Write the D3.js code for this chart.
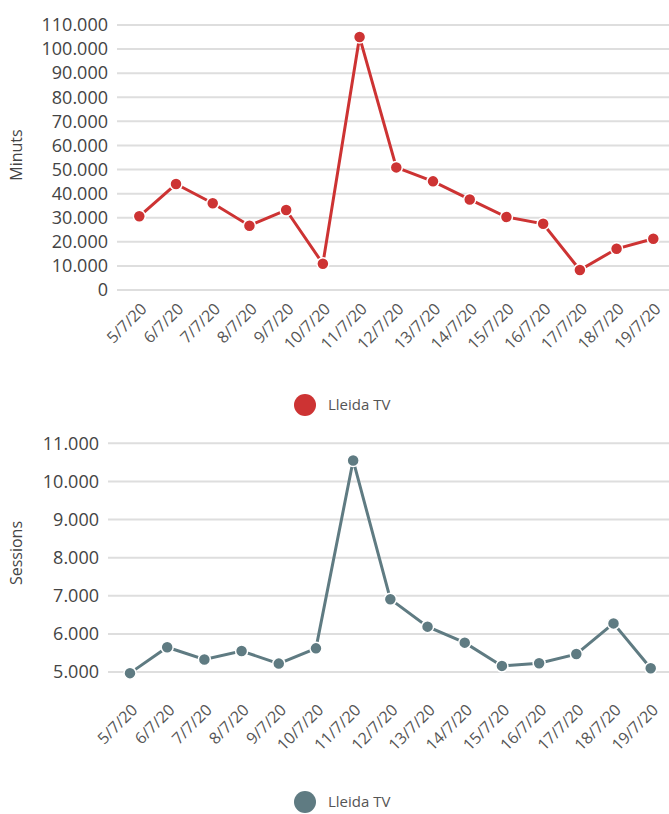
<!DOCTYPE html>
<html>
<head>
<meta charset="utf-8">
<script src="https://cdn.jsdelivr.net/npm/d3@7"></script>
<style>
  body { margin: 0; background: #fff; }
  svg { display: block; font-family: 'Open Sans', sans-serif; }
</style>
</head>
<body>
<svg id="canvas" width="669" height="814"></svg>
<script>
// dates shared by both charts
var dies = ["5/7/20","6/7/20","7/7/20","8/7/20","9/7/20","10/7/20","11/7/20","12/7/20",
            "13/7/20","14/7/20","15/7/20","16/7/20","17/7/20","18/7/20","19/7/20"];

var minuts = [30600,44000,36000,26700,33200,10900,105000,50900,45100,37600,30300,27500,8300,17100,21300];
var sessions = [4970,5650,5330,5550,5220,5620,10550,6910,6190,5770,5160,5230,5470,6275,5100];

var minutsTicks = d3.range(0, 110001, 10000);
var sessionsTicks = d3.range(5000, 11001, 1000);

var serie = "Lleida TV";
var vermell = "#cd3333";
var gris = "#5f7b82";

var fmt = function(v) { return d3.format(",")(v).replace(/,/g, "."); };

var svg = d3.select("#canvas");

function grafic(cfg) {
  var g = svg.append("g");

  var x = d3.scalePoint().domain(dies).range(cfg.xRange);
  var y = d3.scaleLinear().domain(cfg.yDomain).range(cfg.yRange);

  // gridlines
  g.selectAll("line.grid")
    .data(cfg.ticks).enter()
    .append("line")
      .attr("class","grid")
      .attr("x1", cfg.gridX[0])
      .attr("x2", cfg.gridX[1])
      .attr("y1", function(d) { return y(d); })
      .attr("y2", function(d) { return y(d); })
      .attr("stroke", "#dedede")
      .attr("stroke-width", 2);

  // y ticks
  var yAxis = d3.axisLeft(y).tickValues(cfg.ticks).tickFormat(fmt).tickSize(0).tickPadding(0);
  var ya = g.append("g")
    .attr("transform", "translate(" + cfg.yLabelX + ",0)")
    .call(yAxis);
  ya.select(".domain").remove();
  ya.selectAll("text")
    .attr("fill", "#444")
    .attr("font-size", 18)
    .attr("font-family", "'Open Sans', sans-serif");

  // x ticks, rotated
  var xAxis = d3.axisBottom(x).tickSize(0).tickPadding(0);
  var xa = g.append("g")
    .attr("transform", "translate(0," + cfg.xLabelY + ")")
    .call(xAxis);
  xa.select(".domain").remove();
  xa.selectAll("text")
    .attr("fill", "#555")
    .attr("font-size", 16)
    .attr("font-family", "'Open Sans', sans-serif")
    .attr("text-anchor", "end")
    .attr("dy", "0.35em")
    .attr("transform", "translate(4,0) rotate(-45)");

  // axis title
  g.append("text")
    .attr("transform", "translate(" + 22 + "," + cfg.titleY + ") rotate(-90)")
    .attr("text-anchor", "middle")
    .attr("fill", "#444")
    .attr("font-size", 16)
    .text(cfg.title);

  // line
  var line = d3.line()
    .x(function(d, i) { return x(dies[i]); })
    .y(function(d) { return y(d); });

  g.append("path")
    .datum(cfg.values)
    .attr("d", line)
    .attr("fill", "none")
    .attr("stroke", cfg.color)
    .attr("stroke-width", 3);

  g.selectAll("circle.punt")
    .data(cfg.values).enter()
    .append("circle")
      .attr("class","punt")
      .attr("cx", function(d, i) { return x(dies[i]); })
      .attr("cy", function(d) { return y(d); })
      .attr("r", 6)
      .attr("fill", cfg.color)
      .attr("stroke", "#fff")
      .attr("stroke-width", 1.5);

  // legend
  var lg = g.append("g").attr("transform", "translate(305," + cfg.legendY + ")");
  lg.append("circle").attr("r", 11).attr("fill", cfg.color);
  lg.append("text")
    .attr("x", 23)
    .attr("dy", "0.35em")
    .attr("fill", "#555")
    .attr("font-size", 15)
    .text(serie);
}

grafic({
  values: minuts, ticks: minutsTicks, yDomain: [0, 110000], yRange: [290, 25],
  xRange: [139.3, 653.3], gridX: [117, 669], yLabelX: 108, xLabelY: 306,
  title: "Minuts", titleY: 155, color: vermell, legendY: 405
});

grafic({
  values: sessions, ticks: sessionsTicks, yDomain: [5000, 11000], yRange: [672, 443.3],
  xRange: [130, 650.7], gridX: [108, 669], yLabelX: 99, xLabelY: 707,
  title: "Sessions", titleY: 553, color: gris, legendY: 802
});
</script>
</body>
</html>
